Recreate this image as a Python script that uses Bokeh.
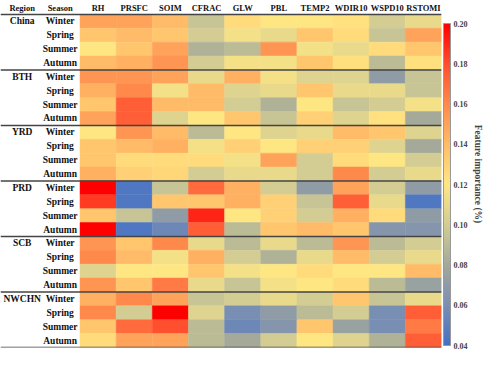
import numpy as np
from bokeh.plotting import figure
from bokeh.models import (ColumnDataSource, LinearColorMapper, ColorBar, FixedTicker,
                          PrintfTickFormatter, Span, Title, Range1d)
from bokeh.transform import transform
from bokeh.core.properties import value
from bokeh.embed import file_html
from bokeh.resources import INLINE

variables = ["RH", "PRSFC", "SOIM", "CFRAC", "GLW", "PBL", "TEMP2", "WDIR10", "WSPD10", "RSTOMI"]
regions = ["China", "BTH", "YRD", "PRD", "SCB", "NWCHN"]
seasons = ["Winter", "Spring", "Summer", "Autumn"]

# rows: Winter, Spring, Summer, Autumn ; columns follow `variables`
china = [[0.150, 0.150, 0.140, 0.095, 0.125, 0.120, 0.120, 0.122, 0.100, 0.110],
         [0.135, 0.140, 0.135, 0.100, 0.115, 0.110, 0.135, 0.125, 0.095, 0.150],
         [0.120, 0.135, 0.150, 0.085, 0.090, 0.155, 0.115, 0.110, 0.125, 0.135],
         [0.140, 0.145, 0.155, 0.100, 0.115, 0.115, 0.135, 0.123, 0.090, 0.123]]
bth = [[0.155, 0.155, 0.150, 0.110, 0.145, 0.115, 0.105, 0.105, 0.070, 0.095],
       [0.145, 0.160, 0.115, 0.140, 0.105, 0.110, 0.135, 0.110, 0.110, 0.095],
       [0.135, 0.175, 0.140, 0.140, 0.100, 0.085, 0.120, 0.095, 0.100, 0.115],
       [0.150, 0.175, 0.105, 0.120, 0.135, 0.095, 0.130, 0.105, 0.122, 0.080]]
yrd = [[0.120, 0.155, 0.140, 0.090, 0.120, 0.105, 0.110, 0.140, 0.135, 0.105],
       [0.135, 0.140, 0.145, 0.115, 0.130, 0.120, 0.130, 0.130, 0.105, 0.080],
       [0.135, 0.125, 0.125, 0.125, 0.115, 0.150, 0.100, 0.125, 0.120, 0.100],
       [0.145, 0.130, 0.128, 0.100, 0.110, 0.110, 0.100, 0.160, 0.100, 0.110]]
prd = [[0.200, 0.045, 0.095, 0.170, 0.145, 0.100, 0.070, 0.150, 0.100, 0.070],
       [0.185, 0.045, 0.135, 0.135, 0.145, 0.130, 0.095, 0.175, 0.110, 0.045],
       [0.135, 0.095, 0.070, 0.190, 0.120, 0.130, 0.100, 0.145, 0.125, 0.070],
       [0.200, 0.045, 0.055, 0.175, 0.090, 0.135, 0.140, 0.135, 0.065, 0.065]]
scb = [[0.155, 0.135, 0.160, 0.110, 0.090, 0.110, 0.090, 0.155, 0.090, 0.100],
       [0.160, 0.140, 0.115, 0.145, 0.100, 0.085, 0.110, 0.140, 0.100, 0.110],
       [0.105, 0.120, 0.120, 0.135, 0.115, 0.120, 0.125, 0.120, 0.120, 0.140],
       [0.155, 0.135, 0.165, 0.110, 0.095, 0.115, 0.120, 0.125, 0.090, 0.075]]
nwchn = [[0.145, 0.160, 0.150, 0.095, 0.100, 0.110, 0.100, 0.135, 0.095, 0.110],
         [0.160, 0.100, 0.200, 0.105, 0.060, 0.070, 0.090, 0.100, 0.060, 0.175],
         [0.135, 0.170, 0.180, 0.090, 0.055, 0.065, 0.135, 0.075, 0.060, 0.165],
         [0.125, 0.150, 0.150, 0.090, 0.080, 0.100, 0.120, 0.105, 0.085, 0.175]]
region_values = [china, bth, yrd, prd, scb, nwchn]

cbar_ticks = [0.04, 0.06, 0.08, 0.10, 0.12, 0.14, 0.16, 0.18, 0.20]

# colour map: blue -> grey -> pale yellow -> orange -> red
anchor_v = [0.04, 0.06, 0.08, 0.10, 0.12, 0.14, 0.16, 0.18, 0.20]
anchor_c = ["#4471C6", "#7A8FB2", "#A4A99A", "#D2CD93", "#FFE683",
            "#FFBC68", "#FF8A4C", "#FF4F2F", "#FF0000"]
rgb = np.array([[int(c[i:i + 2], 16) for i in (1, 3, 5)] for c in anchor_c], float)
grid_v = np.linspace(0.04, 0.20, 256)
palette = []
for v in grid_v:
    r = np.interp(v, anchor_v, rgb[:, 0])
    g = np.interp(v, anchor_v, rgb[:, 1])
    b = np.interp(v, anchor_v, rgb[:, 2])
    palette.append("#%02x%02x%02x" % (int(round(r)), int(round(g)), int(round(b))))
mapper = LinearColorMapper(palette=palette, low=0.04, high=0.20)

nrows = len(regions) * len(seasons)
xs, ys, vals = [], [], []
for ri, reg in enumerate(region_values):
    for si, row in enumerate(reg):
        k = ri * 4 + si
        for ci, v in enumerate(row):
            xs.append(ci + 0.5)
            ys.append(nrows - k - 0.5)
            vals.append(v)
src = ColumnDataSource(dict(x=xs, y=ys, v=vals))

FONT = value("Liberation Serif")

p = figure(width=484, height=349, output_backend="svg", toolbar_location=None,
           x_range=Range1d(-2.2, 10), y_range=Range1d(0, nrows + 1),
           x_axis_location=None, y_axis_location=None,
           min_border_left=0, min_border_top=0, min_border_bottom=2, min_border_right=0)
p.grid.visible = False
p.outline_line_color = None

p.rect(x="x", y="y", width=1, height=1, source=src,
       fill_color=transform("v", mapper), line_color=transform("v", mapper), line_width=0.5)

# headers
hx = [-1.6, -0.55] + [i + 0.5 for i in range(len(variables))]
ht = ["Region", "Season"] + variables
p.text(x=hx, y=[nrows + 0.45] * len(hx), text=ht, text_align="center", text_baseline="middle",
       text_font=FONT, text_font_style="bold", text_font_size="8.5px", text_color="#111111")

# season labels
sx, sy, st = [], [], []
rx, ry, rt = [], [], []
for ri, reg in enumerate(regions):
    for si, s in enumerate(seasons):
        k = ri * 4 + si
        sx.append(-0.55)
        sy.append(nrows - k - 0.5)
        st.append(s)
    rx.append(-1.6)
    ry.append(nrows - ri * 4 - 0.5)
    rt.append(reg)
p.text(x=sx, y=sy, text=st, text_align="center", text_baseline="middle",
       text_font=FONT, text_font_style="bold", text_font_size="9.5px", text_color="#111111")
p.text(x=rx, y=ry, text=rt, text_align="center", text_baseline="middle",
       text_font=FONT, text_font_style="bold", text_font_size="9.5px", text_color="#111111")

for yy in range(0, nrows + 1, 4):
    p.add_layout(Span(location=yy, dimension="width", line_color="#444444", line_width=1.5))

cb = ColorBar(color_mapper=mapper, ticker=FixedTicker(ticks=cbar_ticks),
              formatter=PrintfTickFormatter(format="%.2f"),
              width=7, height=322, location=(0, 0), padding=2, margin=4,
              major_label_text_font="Liberation Serif", major_label_text_font_style="bold",
              major_label_text_font_size="8px", major_tick_line_color=None,
              minor_tick_line_color=None, label_standoff=3,
              bar_line_color="#999999", bar_line_width=1,
              border_line_color=None, background_fill_alpha=0)
p.add_layout(cb, "right")
p.add_layout(Title(text="Feature importance (%)", align="center", text_font="Liberation Serif",
                   text_font_style="bold", text_font_size="9.5px", standoff=0), "right")

open("out.html", "w").write(file_html(p, INLINE))
